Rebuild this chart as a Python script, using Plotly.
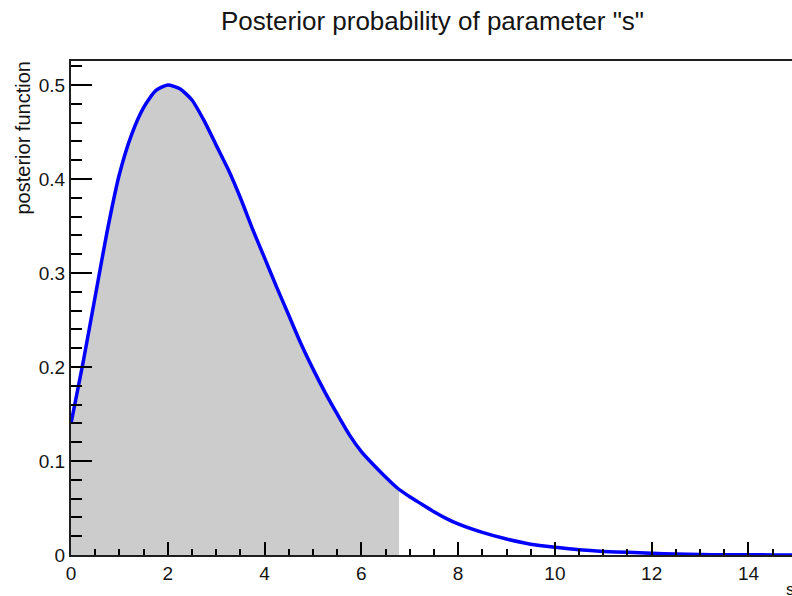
import numpy as np
import plotly.graph_objects as go

# Data
s_values = [0.0, 0.25, 0.5, 0.75, 1.0, 1.25, 1.5, 1.75, 2.0, 2.25, 2.5, 2.75,
            3.0, 3.25, 3.5, 3.75, 4.0, 4.25, 4.5, 4.75, 5.0, 5.25, 5.5, 5.75,
            6.0, 6.25, 6.5, 6.75, 7.0, 7.25, 7.5, 7.75, 8.0, 8.5, 9.0, 9.5,
            10.0, 10.5, 11.0, 11.5, 12.0, 12.5, 13.0, 13.5, 14.0, 14.5, 15.0]
posterior_values = [0.140, 0.205, 0.275, 0.345, 0.405, 0.447, 0.476, 0.494, 0.500,
                    0.496, 0.484, 0.462, 0.436, 0.410, 0.380, 0.347, 0.316, 0.285,
                    0.255, 0.225, 0.198, 0.173, 0.150, 0.128, 0.110, 0.096, 0.083,
                    0.071, 0.062, 0.054, 0.046, 0.039, 0.033, 0.024, 0.017, 0.0115,
                    0.0082, 0.0055, 0.0038, 0.0028, 0.0018, 0.0011, 0.0005, 0.0003,
                    0.0002, 0.0001, 0.0]
shade_limit = 6.78   # upper limit of the shaded credible interval

title_text = 'Posterior probability of parameter "s"'
y_title = "posterior function"
x_title = "s"

W, H = 792, 596
ml, mr, mt, mb = 71, 0, 61, 41

s_arr = np.array(s_values)
p_arr = np.array(posterior_values)
mask = s_arr < shade_limit
shade_x = np.append(s_arr[mask], shade_limit)
shade_y = np.append(p_arr[mask], np.interp(shade_limit, s_arr, p_arr))
shade_x = np.append(shade_x, shade_limit)
shade_y = np.append(shade_y, 0.0)

fig = go.Figure()
fig.add_trace(go.Scatter(x=shade_x, y=shade_y, mode="lines", fill="tozeroy",
                         fillcolor="rgb(204,204,204)", line=dict(width=0, color="rgba(0,0,0,0)"),
                         hoverinfo="skip", showlegend=False))
fig.add_trace(go.Scatter(x=s_values, y=posterior_values, mode="lines",
                         line=dict(color="rgb(0,0,255)", width=3.5, shape="spline", smoothing=0.6),
                         showlegend=False))

pw = W - ml - mr
ph = H - mt - mb

def px_x(px):
    return (px - ml) / pw

def px_y(py):
    return (H - mb - py) / ph

fig.update_layout(
    width=W, height=H,
    margin=dict(l=ml, r=mr, t=mt, b=mb, autoexpand=False),
    paper_bgcolor="white", plot_bgcolor="white",
    font=dict(family="Liberation Sans, Arial, sans-serif", color="black"),
    showlegend=False,
    xaxis=dict(range=[0, 14.9], tickmode="linear", tick0=0, dtick=2,
               ticks="inside", ticklen=13, tickwidth=1.5, tickcolor="black",
               minor=dict(dtick=0.5, ticks="inside", ticklen=6, tickwidth=1.5, tickcolor="black"),
               showline=True, linecolor="rgb(30,30,30)", linewidth=2, mirror=True,
               showgrid=False, zeroline=False, automargin=False,
               tickfont=dict(size=19, color="rgb(20,20,20)")),
    yaxis=dict(range=[0, 0.5255], tickmode="linear", tick0=0, dtick=0.1,
               ticks="inside", ticklen=21, tickwidth=1.5, tickcolor="black",
               minor=dict(dtick=0.02, ticks="inside", ticklen=11, tickwidth=1.5, tickcolor="black"),
               showline=True, linecolor="rgb(30,30,30)", linewidth=2, mirror=False,
               showgrid=False, zeroline=False, ticklabelstandoff=0, automargin=False,
               tickfont=dict(size=19, color="rgb(20,20,20)")),
)

fig.add_annotation(text=title_text, xref="paper", yref="paper",
                   x=px_x(432), y=px_y(4), xanchor="center", yanchor="top",
                   showarrow=False, font=dict(size=26, color="rgb(20,20,20)"))
fig.add_annotation(text=y_title, xref="paper", yref="paper",
                   x=px_x(10), y=px_y(60), xanchor="left", yanchor="top",
                   textangle=-90, showarrow=False,
                   font=dict(size=20, color="rgb(20,20,20)"))
fig.add_annotation(text=x_title, xref="paper", yref="paper",
                   x=px_x(784), y=px_y(578), xanchor="left", yanchor="top",
                   showarrow=False, font=dict(size=17, color="rgb(20,20,20)"))

fig.write_html("out.html", config={"displayModeBar": False},
               post_script="document.body.style.margin='0';document.body.style.padding='0';")
